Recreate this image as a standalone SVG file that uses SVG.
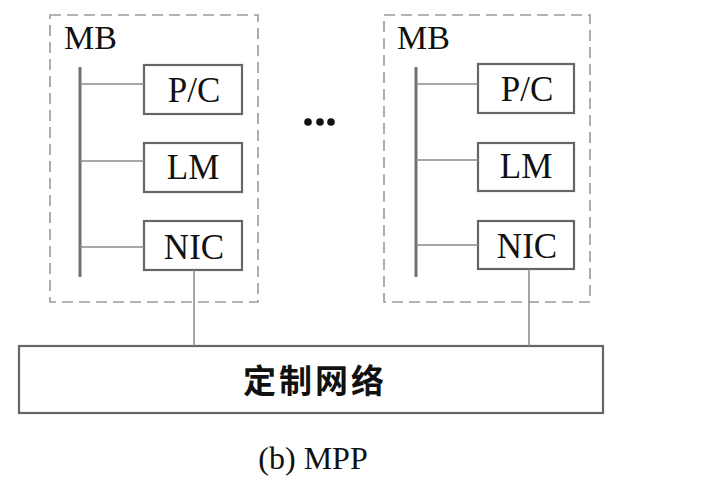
<svg xmlns="http://www.w3.org/2000/svg" width="716" height="488" viewBox="0 0 716 488">
  <style>
    .board { fill: none; stroke: #9a9a9a; stroke-width: 1.6; stroke-dasharray: 11 6; }
    .box { fill: #ffffff; stroke: #666666; stroke-width: 2.2; }
    .bus { stroke: #707070; stroke-width: 3; fill: none; }
    .wire { stroke: #8a8a8a; stroke-width: 1.5; fill: none; }
    .lbl { font-family: "Liberation Serif", "Times New Roman", serif; font-size: 35px; fill: #111111; text-anchor: middle; }
    .mb { font-family: "Liberation Serif", "Times New Roman", serif; font-size: 34px; fill: #111111; }
    .cap { font-family: "Liberation Serif", "Times New Roman", serif; font-size: 32px; fill: #111111; text-anchor: middle; }
    .cjk { font-family: "Liberation Sans", "Noto Sans CJK SC", sans-serif; font-size: 33px; font-weight: 700; fill: #111111; text-anchor: middle; letter-spacing: 3px; }
  </style>
  <rect width="716" height="488" fill="#ffffff"/>

  <!-- node boards -->
  <g id="mb-left">
    <rect class="board" x="50" y="15" width="208" height="287"/>
    <text class="mb" x="64" y="49">MB</text>
    <line class="bus" x1="80" y1="67" x2="80" y2="277"/>
  </g>
  <g id="pc-left">
    <rect class="box" x="144" y="65" width="98" height="49"/>
    <text class="lbl" x="194" y="102">P/C</text>
  </g>
  <g id="lm-left">
    <rect class="box" x="144" y="143" width="98" height="49"/>
    <text class="lbl" x="193" y="179">LM</text>
  </g>
  <g id="nic-left">
    <rect class="box" x="144" y="221" width="98" height="49"/>
    <text class="lbl" x="194" y="259">NIC</text>
  </g>

  <g id="mb-right">
    <rect class="board" x="384" y="15" width="206" height="287"/>
    <text class="mb" x="397" y="49">MB</text>
    <line class="bus" x1="416" y1="67" x2="416" y2="277"/>
  </g>
  <g id="pc-right">
    <rect class="box" x="478" y="64" width="96" height="49"/>
    <text class="lbl" x="527" y="101">P/C</text>
  </g>
  <g id="lm-right">
    <rect class="box" x="478" y="143" width="96" height="48"/>
    <text class="lbl" x="526" y="178">LM</text>
  </g>
  <g id="nic-right">
    <rect class="box" x="478" y="221" width="96" height="48"/>
    <text class="lbl" x="527" y="258">NIC</text>
  </g>

  <g id="ellipsis" fill="#111111">
    <circle cx="308" cy="122" r="3.8"/>
    <circle cx="320" cy="122" r="3.8"/>
    <circle cx="331" cy="122" r="3.8"/>
  </g>

  <g id="network">
    <rect class="box" x="19" y="346" width="584" height="67"/>
    <text class="cjk" x="315" y="393">定制网络</text>
  </g>

  <!-- connectors -->
  <g id="connectors">
    <line class="wire" x1="80" y1="84" x2="144" y2="84"/>
    <line class="wire" x1="80" y1="161" x2="144" y2="161"/>
    <line class="wire" x1="80" y1="247" x2="144" y2="247"/>
    <line class="wire" x1="416" y1="84" x2="478" y2="84"/>
    <line class="wire" x1="416" y1="160" x2="478" y2="160"/>
    <line class="wire" x1="416" y1="245" x2="478" y2="245"/>
    <line class="wire" x1="194" y1="270" x2="194" y2="346"/>
    <line class="wire" x1="529" y1="269" x2="529" y2="346"/>
  </g>

  <text class="cap" x="313" y="469">(b) MPP</text>
</svg>
